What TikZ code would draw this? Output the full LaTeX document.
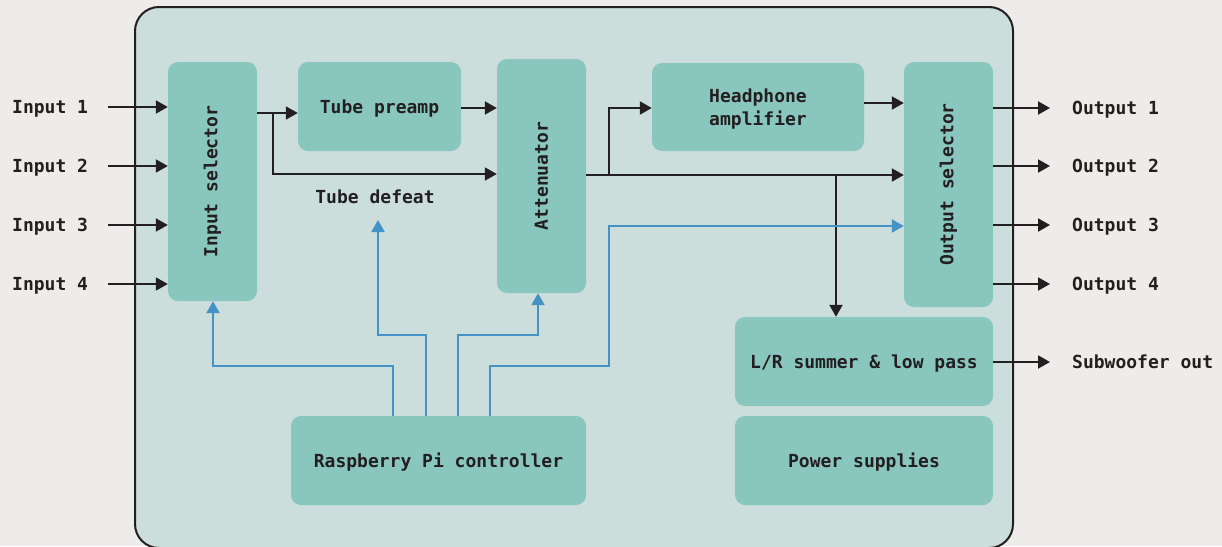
\documentclass[tikz,border=0pt]{standalone}
\usepackage{fontspec}
\setmonofont{DejaVu Sans Mono}
\usetikzlibrary{arrows.meta}
\definecolor{bgc}{HTML}{EDECEA}
\definecolor{panel}{HTML}{CBDEDC}
\definecolor{blk}{HTML}{89C6BE}
\definecolor{ink}{HTML}{231F20}
\definecolor{ctl}{HTML}{4592C4}
\begin{document}
\begin{tikzpicture}[x=1pt,y=-1pt,
  txt/.style={font=\ttfamily\bfseries\fontsize{18}{23}\selectfont, text=ink},
  box/.style={txt, fill=blk, rounded corners=10pt, inner sep=0pt, align=center, text depth=0pt},
  lbl/.style={txt, inner sep=0pt, anchor=base west},
  sig/.style={draw=ink, line width=2pt, -{Triangle[length=12pt,width=13pt]}},
  ctrl/.style={draw=ctl, line width=2.4pt, -{Triangle[length=12pt,width=13pt]}}]
\useasboundingbox (0,0) rectangle (1222,546);
\fill[bgc] (0,0) rectangle (1222,546);
\draw[ink, line width=2pt, fill=panel, rounded corners=24pt] (135,7) rectangle (1013,548);

% blocks
\node[box, minimum width=89pt, minimum height=239pt] (insel) at (212.5,181.5) {\rotatebox{90}{Input selector}};
\node[box, minimum width=163pt, minimum height=89pt] (tp) at (379.5,106.5) {Tube preamp};
\node[box, minimum width=89pt, minimum height=234pt] (att) at (541.5,176) {\rotatebox{90}{Attenuator}};
\node[box, minimum width=212pt, minimum height=88pt] (hp) at (758,107) {Headphone\\amplifier};
\node[box, minimum width=89pt, minimum height=245pt] (outsel) at (948.5,184.5) {\rotatebox{90}{Output selector}};
\node[box, minimum width=258pt, minimum height=89pt] (lr) at (864,361.5) {L/R summer \& low pass};
\node[box, minimum width=258pt, minimum height=89pt] (ps) at (864,460.5) {Power supplies};
\node[box, minimum width=295pt, minimum height=89pt] (rpi) at (438.5,460.5) {Raspberry Pi controller};
\node[txt, inner sep=0pt] (td) at (375,197) {Tube defeat};

% inputs
\foreach \i/\y in {1/107,2/166,3/225,4/284}{
  \node[lbl] (in\i) at (12,\y+6.5) {Input \i};
  \coordinate (is\i) at (108,\y);
  \draw[sig] (is\i) -- (is\i -| insel.west);
}
% outputs
\foreach \i/\y in {1/108,2/166,3/225,4/284}{
  \node[lbl] (out\i) at (1072,\y+6.5) {Output \i};
  \coordinate (oe\i) at (1050,\y);
  \draw[sig] (outsel.east |- oe\i) -- (oe\i);
}
\node[lbl] (subl) at (1072,362+6.5) {Subwoofer out};
\coordinate (sube) at (1050,362);
\draw[sig] (lr.east |- sube) -- (sube);

% signal path
\coordinate (j1) at (273,113);
\draw[sig] (insel.east |- j1) -- (tp.west |- j1);
\draw[sig] (j1) |- (att.west |- 0,174);
\draw[sig] (tp.east |- 0,108) -- (att.west |- 0,108);
\coordinate (j2) at (609,175);
\coordinate (j3) at (836,175);
\draw[sig] (att.east |- j2) -- (outsel.west |- j2);
\draw[sig] (j2) |- (hp.west |- 0,108);
\draw[sig] (j3) -- (j3 |- lr.north);
\draw[sig] (hp.east |- 0,103) -- (outsel.west |- 0,103);

% control path
\coordinate (tda) at (378,220);
\draw[ctrl] (rpi.north -| 393,0) |- (213,366) -- (insel.south -| 213,0);
\draw[ctrl] (rpi.north -| 426,0) |- (tda |- 0,335) -- (tda);
\draw[ctrl] (rpi.north -| 458,0) |- (538,335) -- (att.south -| 538,0);
\draw[ctrl] (rpi.north -| 490,0) |- (609,366) |- (outsel.west |- 0,226);
\end{tikzpicture}
\end{document}
